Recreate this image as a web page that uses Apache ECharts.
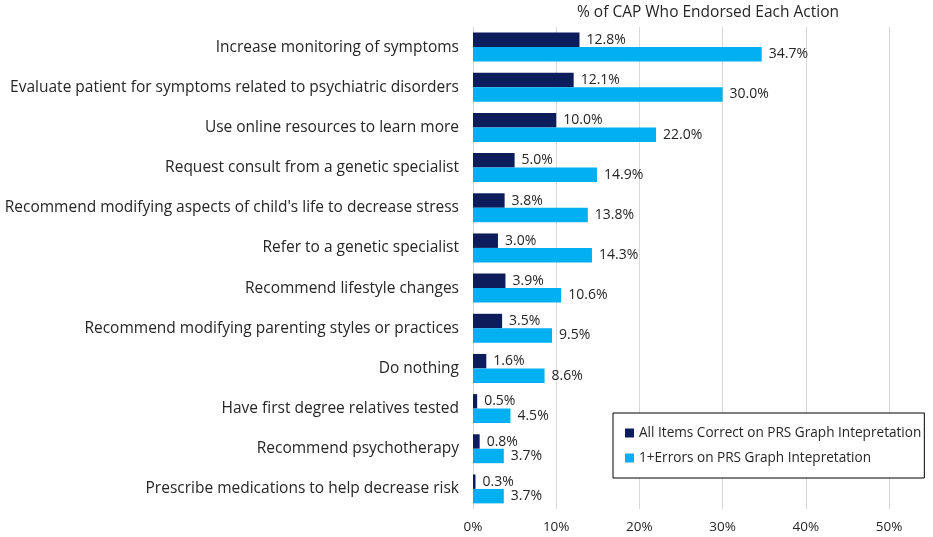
<!DOCTYPE html>
<html><head><meta charset="utf-8">
<script src="https://cdn.jsdelivr.net/npm/echarts@6/dist/echarts.min.js"></script>
<style>html,body{margin:0;padding:0;background:#fff}#c{width:933px;height:537px}</style>
</head><body><div id="c"></div>
<script>
const categories = [
  "Increase monitoring of symptoms",
  "Evaluate patient for symptoms related to psychiatric disorders",
  "Use online resources to learn more",
  "Request consult from a genetic specialist",
  "Recommend modifying aspects of child's life to decrease stress",
  "Refer to a genetic specialist",
  "Recommend lifestyle changes",
  "Recommend modifying parenting styles or practices",
  "Do nothing",
  "Have first degree relatives tested",
  "Recommend psychotherapy",
  "Prescribe medications to help decrease risk"
];
const allCorrect = [12.8, 12.1, 10.0, 5.0, 3.8, 3.0, 3.9, 3.5, 1.6, 0.5, 0.8, 0.3];
const oneError = [34.7, 30.0, 22.0, 14.9, 13.8, 14.3, 10.6, 9.5, 8.6, 4.5, 3.7, 3.7];
const seriesNames = ["All Items Correct on PRS Graph Intepretation", "1+Errors on PRS Graph Intepretation"];
const xTicks = [0, 10, 20, 30, 40, 50];
const titleText = "% of CAP Who Endorsed Each Action";

const font = "'Open Sans', 'Liberation Sans', sans-serif";
const chart = echarts.init(document.getElementById('c'));
const lbl = {show: true, position: 'right', distance: 7, color: '#262626', fontSize: 14, fontFamily: font,
  formatter: p => p.value.toFixed(1) + '%'};
chart.setOption({
  animation: false,
  title: {text: titleText, left: 703, top: 0, textAlign: 'center',
    textStyle: {fontSize: 15.5, fontWeight: 'normal', color: '#262626', fontFamily: font}},
  legend: {
    orient: 'vertical', left: 613, top: 413,
    itemWidth: 9, itemHeight: 9, itemGap: 11, padding: [13, 3, 13, 12],
    borderColor: '#000', borderWidth: 1, backgroundColor: '#fff',
    icon: 'rect',
    textStyle: {fontSize: 13.6, color: '#262626', fontFamily: font},
    data: seriesNames
  },
  grid: {left: 473, right: 44, top: 27, bottom: 28, containLabel: false},
  xAxis: {
    type: 'value', min: xTicks[0], max: xTicks[xTicks.length - 1], interval: 10,
    axisLabel: {formatter: v => v + '%', color: '#262626', fontSize: 13.5, fontFamily: font, margin: 11},
    splitLine: {show: true, lineStyle: {color: '#d9d9d9'}},
    axisLine: {show: false}, axisTick: {show: false}
  },
  yAxis: {
    type: 'category', data: categories, inverse: true,
    axisLine: {show: false}, axisTick: {show: false},
    axisLabel: {color: '#262626', fontSize: 15.5, fontFamily: font, margin: 14}
  },
  series: [
    {name: seriesNames[0], type: 'bar', data: allCorrect, barGap: '0%', barCategoryGap: '28%',
      itemStyle: {color: '#0d1d5b'}, label: lbl},
    {name: seriesNames[1], type: 'bar', data: oneError, barGap: '0%', barCategoryGap: '28%',
      itemStyle: {color: '#00b0f0'}, label: lbl}
  ]
});
</script></body></html>
